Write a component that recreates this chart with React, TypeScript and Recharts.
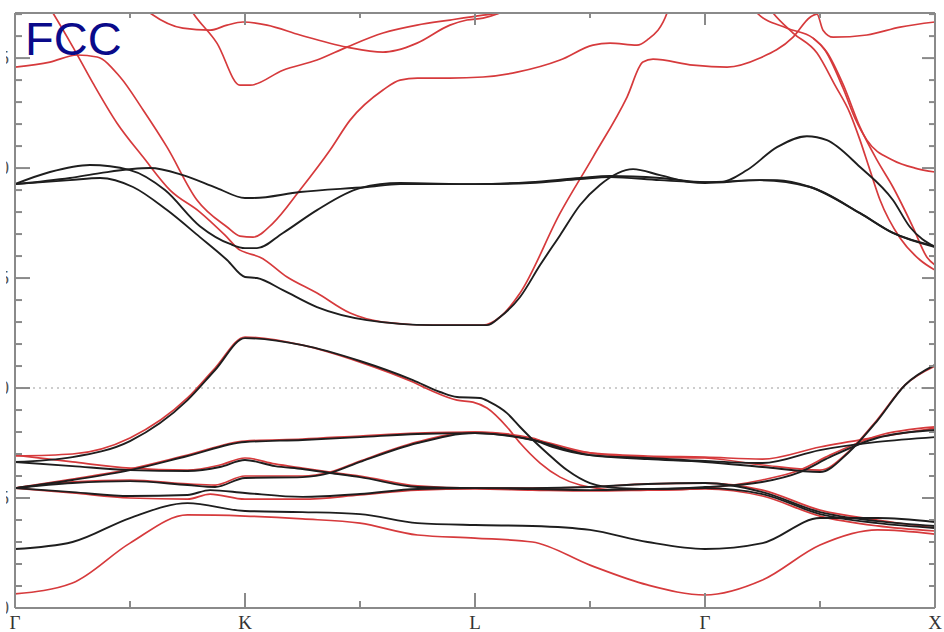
import React from 'react';
import { LineChart, Line, XAxis, YAxis, ReferenceLine } from 'recharts';

// ---- axes ----
const kLabels = ['Γ', 'K', 'L', 'Γ', 'X'];
const kTicks = [0, 0.5, 1, 1.5, 2, 2.5, 3, 3.5, 4];
const eTicks = [-10, -9, -8, -7, -6, -5, -4, -3, -2, -1, 0, 1, 2, 3, 4, 5, 6, 7, 8, 9, 10, 11, 12, 13, 14, 15, 16, 17];
const eDomain = [-10, 17.05];

// ---- valence bands ----
const k17 = [0, 0.25, 0.5, 0.75, 1, 1.25, 1.5, 1.75, 2, 2.25, 2.5, 2.75, 3, 3.25, 3.5, 3.75, 4];
const vb1Black = [-7.32, -7.0, -5.91, -5.23, -5.59, -5.64, -5.73, -6.14, -6.23, -6.27, -6.45, -7.0, -7.32, -7.05, -5.91, -5.91, -6.09];
const vb1Red = [-9.36, -8.86, -7.05, -5.77, -5.82, -5.95, -6.14, -6.68, -6.82, -7.0, -8.05, -8.95, -9.41, -8.73, -7.14, -6.45, -6.64];

const kT1 = [0, 0.25, 0.5, 0.75, 1, 1.25, 1.5, 1.75, 2, 2.25, 2.339, 2.5, 2.75, 3, 3.25, 3.5, 3.75, 4];
const t1Black = [-4.55, -4.18, -3.73, -3.09, -2.45, -2.36, -2.23, -2.09, -2.05, -2.36, -2.68, -3.05, -3.18, -3.32, -3.41, -2.82, -2.45, -2.23];
const t1Red = [-4.55, -4.14, -3.68, -3.05, -2.41, -2.32, -2.18, -2.05, -2.0, -2.27, -2.64, -2.95, -3.09, -3.14, -3.23, -2.68, -2.23, -1.82];

const kS2 = [0, 0.25, 0.5, 0.75, 0.87, 1, 1.25, 1.37, 1.5, 1.75, 2, 2.25, 2.5, 2.75, 3, 3.25, 3.5, 3.622, 3.748, 3.87, 4];
const s2Black = [-4.55, -4.32, -4.23, -4.41, -4.5, -4.09, -4.05, -3.86, -3.36, -2.5, -2.05, -2.36, -3.05, -3.23, -3.36, -3.59, -3.82, -2.95, -1.5, 0.14, 1.05];
const s2Red = [-4.55, -4.27, -4.18, -4.36, -4.41, -4.0, -4.0, -3.82, -3.32, -2.45, -2.0, -2.32, -2.95, -3.14, -3.18, -3.5, -3.73, -2.91, -1.45, 0.14, 1.0];

const kS1 = [0, 0.25, 0.5, 0.75, 0.891, 1, 1.13, 1.25, 1.37, 1.5, 1.75, 2, 2.25, 2.5, 2.75, 3, 3.25, 3.5, 3.75, 4];
const s1Black = [-3.36, -3.55, -3.73, -3.77, -3.59, -3.27, -3.55, -3.68, -3.86, -4.05, -4.5, -4.55, -4.55, -4.5, -4.36, -4.32, -4.73, -5.64, -6.05, -6.27];
const s1Red = [-3.05, -3.36, -3.64, -3.73, -3.5, -3.18, -3.45, -3.64, -3.82, -4.0, -4.45, -4.55, -4.55, -4.5, -4.36, -4.32, -4.64, -5.55, -6.0, -6.36];

const kS3 = [0, 0.25, 0.5, 0.75, 0.848, 1, 1.25, 1.5, 1.75, 2, 2.25, 2.5, 2.75, 3, 3.25, 3.5, 3.75, 4];
const s3Black = [-4.55, -4.73, -4.91, -4.86, -4.64, -4.77, -4.95, -4.82, -4.59, -4.55, -4.59, -4.64, -4.59, -4.55, -4.82, -5.73, -6.14, -6.36];
const s3Red = [-4.55, -4.77, -5.0, -5.05, -4.82, -5.05, -5.05, -4.86, -4.64, -4.59, -4.64, -4.68, -4.64, -4.59, -4.91, -5.82, -6.27, -6.5];

const kPBlack = [0, 0.25, 0.5, 0.75, 0.87, 1, 1.25, 1.5, 1.73, 1.848, 1.922, 2.022, 2.065, 2.139, 2.196, 2.252, 2.313, 2.4, 2.5, 2.63, 2.804, 3, 3.248, 3.413, 3.543, 3.748, 4];
const pBlack = [-3.36, -3.14, -2.41, -0.55, 0.82, 2.27, 1.95, 1.23, 0.36, -0.18, -0.41, -0.45, -0.64, -1.14, -1.77, -2.36, -2.95, -3.73, -4.32, -4.55, -4.59, -4.5, -4.27, -3.82, -3.14, -2.27, -1.91];
const kPRed = [0, 0.25, 0.5, 0.75, 0.87, 1, 1.25, 1.5, 1.73, 1.804, 1.922, 1.991, 2.052, 2.139, 2.196, 2.283, 2.37, 2.457, 2.63, 2.804, 3, 3.248, 3.413, 3.543, 3.748, 4];
const pRed = [-3.09, -3.0, -2.27, -0.45, 0.91, 2.32, 1.95, 1.18, 0.27, -0.09, -0.55, -0.64, -0.91, -1.77, -2.5, -3.41, -4.05, -4.41, -4.64, -4.64, -4.55, -4.18, -3.73, -3.05, -2.18, -1.77];

// ---- conduction bands (black) ----
const kCB1 = [0, 0.239, 0.37, 0.513, 0.661, 0.804, 0.922, 1, 1.052, 1.165, 1.313, 1.53, 1.817, 2.0, 2.052, 2.109, 2.196, 2.283, 2.37, 2.457, 2.543, 2.687, 2.804, 2.935, 3.0, 3.239, 3.313, 3.457, 3.674, 3.817, 4.0];
const cb1Black = [9.27, 9.45, 9.55, 9.14, 8.09, 6.86, 5.82, 5.05, 5.0, 4.45, 3.68, 3.09, 2.86, 2.86, 2.86, 3.23, 4.14, 5.59, 6.95, 8.32, 9.23, 9.95, 9.68, 9.36, 9.32, 9.45, 9.45, 9.14, 7.95, 7.05, 6.41];
const kCB2 = [0, 0.152, 0.326, 0.5, 0.652, 0.804, 0.935, 1, 1.052, 1.165, 1.313, 1.5, 1.674, 2.0, 2.239, 2.457, 2.587, 2.804, 3.0, 3.065, 3.183, 3.313, 3.443, 3.53, 3.674, 3.817, 3.891, 4.0];
const cb2Black = [9.27, 9.82, 10.14, 9.91, 9.0, 7.36, 6.55, 6.36, 6.36, 7.05, 8.09, 9.09, 9.32, 9.27, 9.36, 9.55, 9.64, 9.55, 9.36, 9.36, 9.91, 10.95, 11.45, 11.27, 10.05, 8.55, 7.32, 6.41];
const kCB3 = [0, 0.239, 0.37, 0.587, 0.73, 0.878, 1.0, 1.035, 1.239, 1.53, 1.674, 2.0, 2.239, 2.457, 2.587, 2.804, 3.0, 3.239, 3.457, 3.674, 3.817, 4.0];
const cb3Black = [9.27, 9.55, 9.77, 10.0, 9.68, 9.09, 8.64, 8.64, 8.91, 9.14, 9.27, 9.27, 9.32, 9.5, 9.59, 9.45, 9.36, 9.45, 9.14, 7.95, 7.05, 6.45];

// ---- conduction bands (red) ----
const kRC1 = [0.13, 0.165, 0.252, 0.339, 0.443, 0.557, 0.674, 0.804, 0.913, 0.978, 1.009, 1.065, 1.183, 1.313, 1.457, 1.6, 1.817, 2.035, 2.109, 2.196, 2.37, 2.513, 2.661, 2.73, 2.774, 2.948, 3.096, 3.239, 3.383, 3.457, 3.487, 3.513, 3.557, 3.704, 3.848, 4.0];
const rc1 = [17.64, 17.05, 15.5, 13.86, 12.05, 10.5, 9.0, 8.0, 6.95, 6.27, 6.14, 5.95, 5.05, 4.32, 3.41, 3.0, 2.86, 2.86, 3.23, 4.32, 7.95, 10.5, 13.23, 14.82, 14.95, 14.68, 14.59, 15.0, 15.95, 16.86, 17.0, 16.27, 15.95, 16.05, 16.41, 16.64];
const kRC2 = [0, 0.152, 0.27, 0.357, 0.457, 0.557, 0.661, 0.791, 0.922, 0.978, 1.035, 1.122, 1.239, 1.37, 1.457, 1.6, 1.674, 1.75, 1.891, 2.035, 2.183, 2.37, 2.513, 2.587, 2.704, 2.748, 2.835, 2.848];
const rc2 = [14.59, 14.82, 15.14, 15.05, 14.14, 12.64, 10.95, 8.55, 7.32, 6.91, 6.86, 7.5, 9.0, 10.82, 12.18, 13.55, 14.0, 14.09, 14.09, 14.14, 14.36, 14.91, 15.59, 15.68, 15.59, 15.82, 17.05, 17.55];
const kRC3 = [0.739, 0.774, 0.878, 0.978, 1.022, 1.165, 1.313, 1.443, 1.6, 1.748, 1.891, 2.035, 2.109, 2.196];
const rc3 = [17.64, 17.05, 15.68, 13.77, 13.77, 14.45, 14.91, 15.5, 16.14, 16.5, 16.73, 16.95, 17.05, 17.27];
const kRC4 = [0.543, 0.587, 0.73, 0.848, 0.922, 0.991, 1.096, 1.239, 1.443, 1.6, 1.661, 1.748, 1.891, 1.965, 2.035, 2.109, 2.174];
const rc4 = [17.41, 17.05, 16.36, 16.27, 16.5, 16.64, 16.5, 16.05, 15.5, 15.27, 15.36, 15.68, 16.5, 16.73, 16.82, 17.05, 17.36];
const kRC5 = [3.196, 3.226, 3.357, 3.47, 3.522, 3.6, 3.652, 3.704, 3.817, 3.913, 4.0];
const rc5 = [17.55, 17.05, 16.36, 15.91, 15.36, 13.64, 12.27, 11.27, 10.36, 10.0, 9.82];
const kRC6 = [3.261, 3.296, 3.383, 3.487, 3.565, 3.63, 3.674, 3.717, 3.761, 3.848, 3.935, 4.0];
const rc6 = [17.55, 17.05, 16.14, 15.23, 13.77, 12.5, 11.27, 9.91, 8.55, 6.82, 5.82, 5.36];
const kRC7 = [3.47, 3.53, 3.6, 3.674, 3.748, 3.817, 3.904, 3.965, 4.0];
const rc7 = [15.91, 15.27, 13.82, 11.86, 10.36, 9.14, 7.32, 5.95, 5.59];

const band = (k: number[], e: number[]) => k.map((kk, i) => ({ k: kk, e: e[i] }));

const redBands = [
  band(k17, vb1Red), band(kT1, t1Red), band(kS2, s2Red), band(kS1, s1Red), band(kS3, s3Red), band(kPRed, pRed),
  band(kRC1, rc1), band(kRC2, rc2), band(kRC3, rc3), band(kRC4, rc4), band(kRC5, rc5), band(kRC6, rc6), band(kRC7, rc7),
];
const blackBands = [
  band(k17, vb1Black), band(kT1, t1Black), band(kS2, s2Black), band(kS1, s1Black), band(kS3, s3Black), band(kPBlack, pBlack),
  band(kCB1, cb1Black), band(kCB2, cb2Black), band(kCB3, cb3Black),
];

const TICK = '#8a8a8a';

const BottomTick = (p: any) => {
  const v = p.payload.value;
  const major = Math.abs(v - Math.round(v)) < 1e-6;
  return (
    <g>
      <line x1={p.x} x2={p.x} y1={p.y} y2={p.y - (major ? 15 : 7)} stroke={TICK} strokeWidth={2} />
      {major && (
        <text x={p.x} y={p.y + 21} textAnchor="middle" fontFamily="Liberation Serif" fontSize={19} fill="#333">
          {kLabels[Math.round(v)]}
        </text>
      )}
    </g>
  );
};
const TopTick = (p: any) => {
  const v = p.payload.value;
  const major = Math.abs(v - Math.round(v)) < 1e-6;
  return <line x1={p.x} x2={p.x} y1={p.y} y2={p.y + (major ? 12 : 5)} stroke={TICK} strokeWidth={2} />;
};
const LeftTick = (p: any) => {
  const v = Math.round(p.payload.value);
  const major = v % 5 === 0;
  return (
    <g>
      <line x1={p.x} x2={p.x + (major ? 15 : 7)} y1={p.y} y2={p.y} stroke={TICK} strokeWidth={2} />
      {major && (
        <text x={p.x - 6} y={p.y + 6} textAnchor="end" fontFamily="Liberation Serif" fontSize={18} fill="#555">
          {v}
        </text>
      )}
    </g>
  );
};
const RightTick = (p: any) => {
  const v = Math.round(p.payload.value);
  const major = v % 5 === 0;
  return <line x1={p.x} x2={p.x - (major ? 13 : 6)} y1={p.y} y2={p.y} stroke={TICK} strokeWidth={2} />;
};

export default function App() {
  const axisLine = { stroke: TICK, strokeWidth: 2 };
  return (
    <div>
      <div style={{ position: 'absolute', left: 6, top: 0, width: 938, height: 632, overflow: 'hidden', background: '#fff' }}>
        <div style={{ position: 'absolute', left: -30, top: 0 }}>
          <LineChart width={968} height={632} margin={{ top: 12, right: 8, bottom: 23, left: 38 }}>
            <XAxis xAxisId={0} type="number" dataKey="k" domain={[0, 4]} allowDataOverflow ticks={kTicks} interval={0}
              height={1} tickSize={0} tickMargin={0} tickLine={false} axisLine={axisLine} tick={<BottomTick />} />
            <XAxis xAxisId="top" orientation="top" type="number" dataKey="k" domain={[0, 4]} allowDataOverflow ticks={kTicks} interval={0}
              height={1} tickSize={0} tickMargin={0} tickLine={false} axisLine={axisLine} tick={<TopTick />} />
            <YAxis yAxisId={0} type="number" domain={eDomain} allowDataOverflow ticks={eTicks} interval={0}
              width={1} tickSize={0} tickMargin={0} tickLine={false} axisLine={axisLine} tick={<LeftTick />} />
            <YAxis yAxisId="right" orientation="right" type="number" domain={eDomain} allowDataOverflow ticks={eTicks} interval={0}
              width={1} tickSize={0} tickMargin={0} tickLine={false} axisLine={axisLine} tick={<RightTick />} />
            <ReferenceLine y={0} stroke="#bdbdbd" strokeWidth={1.5} strokeDasharray="2 4" />
            {redBands.map((d, i) => (
              <Line key={'r' + i} data={d} dataKey="e" type="monotone" stroke="#d63a3c" strokeWidth={1.7}
                dot={false} activeDot={false} isAnimationActive={false} />
            ))}
            {blackBands.map((d, i) => (
              <Line key={'b' + i} data={d} dataKey="e" type="monotone" stroke="#1e1e1e" strokeWidth={1.9}
                dot={false} activeDot={false} isAnimationActive={false} />
            ))}
          </LineChart>
        </div>
      </div>
      <div style={{ position: 'absolute', left: 25, top: 16, fontFamily: '"Liberation Sans", Arial, sans-serif', fontSize: 47, lineHeight: '46px', color: '#0a0a8a' }}>
        FCC
      </div>
    </div>
  );
}
